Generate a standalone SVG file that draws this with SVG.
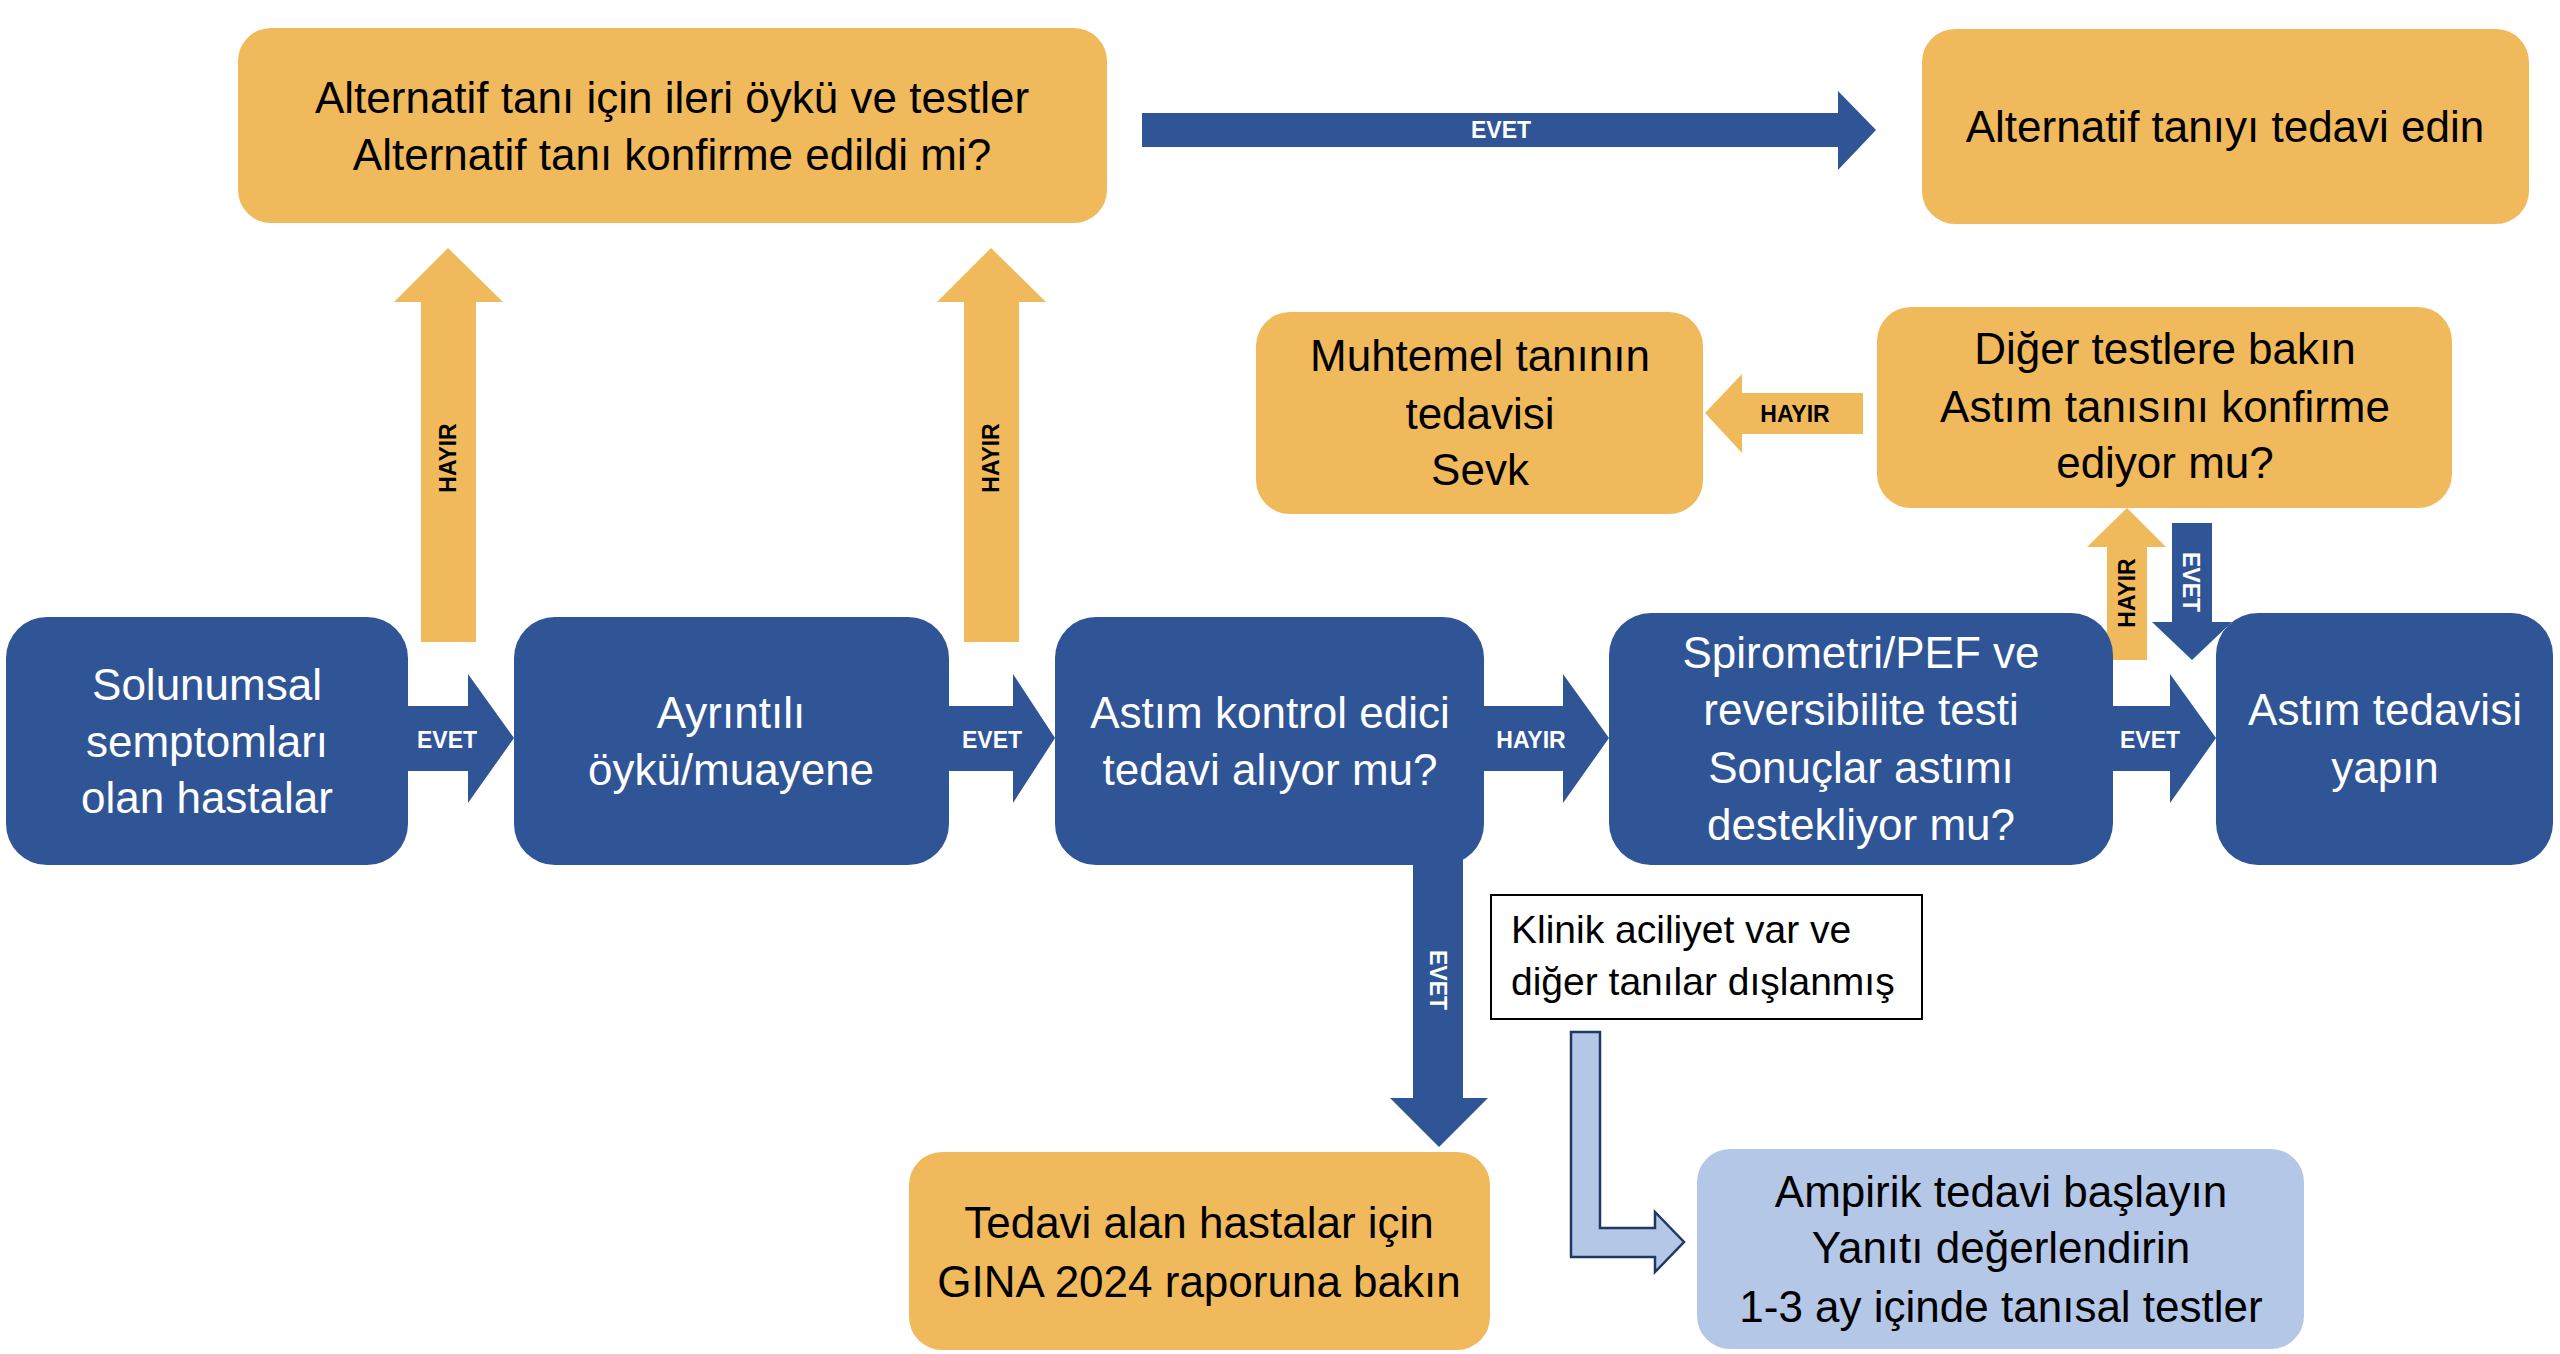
<svg xmlns="http://www.w3.org/2000/svg" width="2560" height="1354" viewBox="0 0 2560 1354">
<style>
.bg{fill:#ffffff}
.blue{fill:#2F5597}
.orange{fill:#F0B95B}
.light{fill:#B4C7E7}
.t{font-family:"Liberation Sans",Arial,sans-serif;font-size:44px;text-anchor:middle}
.w{fill:#ffffff}
.k{fill:#000000}
.lbl{font-family:"Liberation Sans",Arial,sans-serif;font-size:23px;font-weight:bold;text-anchor:middle;dominant-baseline:central}
.small{font-family:"Liberation Sans",Arial,sans-serif;font-size:39px;fill:#000000}
</style>
<rect class="bg" x="0" y="0" width="2560" height="1354"/>
<g id="connectors">
  <polygon id="c1" class="blue" points="408,706 468,706 468,674 514,738 468,803 468,771 408,771"/>
  <text class="lbl w" x="447" y="740">EVET</text>
  <polygon id="c2" class="blue" points="949,706 1013,706 1013,674 1055,738 1013,803 1013,771 949,771"/>
  <text class="lbl w" x="992" y="740">EVET</text>
  <polygon id="c3" class="blue" points="1484,706 1563,706 1563,674 1609,738 1563,803 1563,771 1484,771"/>
  <text class="lbl w" x="1531" y="740">HAYIR</text>
  <polygon id="c4" class="blue" points="2113,706 2170,706 2170,674 2216,738 2170,803 2170,771 2113,771"/>
  <text class="lbl w" x="2150" y="740">EVET</text>
  <polygon id="c5" class="orange" points="421,642 421,302 394,302 448,248 503,302 476,302 476,642"/>
  <text class="lbl k" transform="translate(448,458) rotate(-90)" x="0" y="0">HAYIR</text>
  <polygon id="c6" class="orange" points="964,642 964,302 937,302 991,248 1046,302 1019,302 1019,642"/>
  <text class="lbl k" transform="translate(991,458) rotate(-90)" x="0" y="0">HAYIR</text>
  <polygon id="c7" class="blue" points="1142,113 1838,113 1838,91 1876,130 1838,170 1838,147 1142,147"/>
  <text class="lbl w" x="1501" y="130">EVET</text>
  <polygon id="c8" class="orange" points="1863,393 1742,393 1742,374 1705,413 1742,453 1742,434 1863,434"/>
  <text class="lbl k" x="1795" y="414">HAYIR</text>
  <polygon id="c9" class="orange" points="2107,660 2107,547 2087,547 2127,508 2166,547 2147,547 2147,660"/>
  <text class="lbl k" transform="translate(2127,593) rotate(-90)" x="0" y="0">HAYIR</text>
  <polygon id="c10" class="blue" points="2172,523 2212,523 2212,622 2232,622 2192,660 2152,622 2172,622"/>
  <text class="lbl w" transform="translate(2191,582) rotate(90)" x="0" y="0">EVET</text>
  <polygon id="c11" class="blue" points="1413,850 1463,850 1463,1098 1488,1098 1439,1147 1390,1098 1413,1098"/>
  <text class="lbl w" transform="translate(1438,980) rotate(90)" x="0" y="0">EVET</text>
  <path id="c12" class="light" stroke="#203864" stroke-width="2.5" d="M1571,1032 L1600,1032 L1600,1228 L1655,1228 L1655,1212 L1684,1242 L1655,1272 L1655,1257 L1571,1257 Z"/>
</g>
<g id="n-alt">
  <rect class="orange" x="238" y="28" width="869" height="195" rx="33"/>
  <text class="t k" x="672" y="113">Alternatif tanı için ileri öykü ve testler</text>
  <text class="t k" x="672" y="170">Alternatif tanı konfirme edildi mi?</text>
</g>
<g id="n-alt-tx">
  <rect class="orange" x="1922" y="29" width="607" height="195" rx="33"/>
  <text class="t k" x="2225" y="142">Alternatif tanıyı tedavi edin</text>
</g>
<g id="n-muhtemel">
  <rect class="orange" x="1256" y="312" width="447" height="202" rx="34"/>
  <text class="t k" x="1480" y="371">Muhtemel tanının</text>
  <text class="t k" x="1480" y="429">tedavisi</text>
  <text class="t k" x="1480" y="485">Sevk</text>
</g>
<g id="n-diger">
  <rect class="orange" x="1877" y="307" width="575" height="201" rx="34"/>
  <text class="t k" x="2165" y="364">Diğer testlere bakın</text>
  <text class="t k" x="2165" y="422">Astım tanısını konfirme</text>
  <text class="t k" x="2165" y="478">ediyor mu?</text>
</g>
<g id="n1">
  <rect class="blue" x="6" y="617" width="402" height="248" rx="41"/>
  <text class="t w" x="207" y="700">Solunumsal</text>
  <text class="t w" x="207" y="757">semptomları</text>
  <text class="t w" x="207" y="813">olan hastalar</text>
</g>
<g id="n2">
  <rect class="blue" x="514" y="617" width="435" height="248" rx="41"/>
  <text class="t w" x="731" y="728">Ayrıntılı</text>
  <text class="t w" x="731" y="785">öykü/muayene</text>
</g>
<g id="n3">
  <rect class="blue" x="1055" y="617" width="429" height="248" rx="41"/>
  <text class="t w" x="1270" y="728">Astım kontrol edici</text>
  <text class="t w" x="1270" y="785">tedavi alıyor mu?</text>
</g>
<g id="n4">
  <rect class="blue" x="1609" y="613" width="504" height="252" rx="42"/>
  <text class="t w" x="1861" y="668">Spirometri/PEF ve</text>
  <text class="t w" x="1861" y="725">reversibilite testi</text>
  <text class="t w" x="1861" y="783">Sonuçlar astımı</text>
  <text class="t w" x="1861" y="840">destekliyor mu?</text>
</g>
<g id="n5">
  <rect class="blue" x="2216" y="613" width="337" height="252" rx="42"/>
  <text class="t w" x="2385" y="725">Astım tedavisi</text>
  <text class="t w" x="2385" y="783">yapın</text>
</g>
<g id="n-gina">
  <rect class="orange" x="909" y="1152" width="581" height="198" rx="33"/>
  <text class="t k" x="1199" y="1238">Tedavi alan hastalar için</text>
  <text class="t k" x="1199" y="1297">GINA 2024 raporuna bakın</text>
</g>
<g id="n-klinik">
  <rect x="1491" y="895" width="431" height="124" fill="#ffffff" stroke="#000000" stroke-width="2"/>
  <text class="small" x="1511" y="943">Klinik aciliyet var ve</text>
  <text class="small" x="1511" y="995">diğer tanılar dışlanmış</text>
</g>
<g id="n-ampirik">
  <rect class="light" x="1697" y="1149" width="607" height="200" rx="33"/>
  <text class="t k" x="2001" y="1207">Ampirik tedavi başlayın</text>
  <text class="t k" x="2001" y="1263">Yanıtı değerlendirin</text>
  <text class="t k" x="2001" y="1322">1-3 ay içinde tanısal testler</text>
</g>
</svg>
